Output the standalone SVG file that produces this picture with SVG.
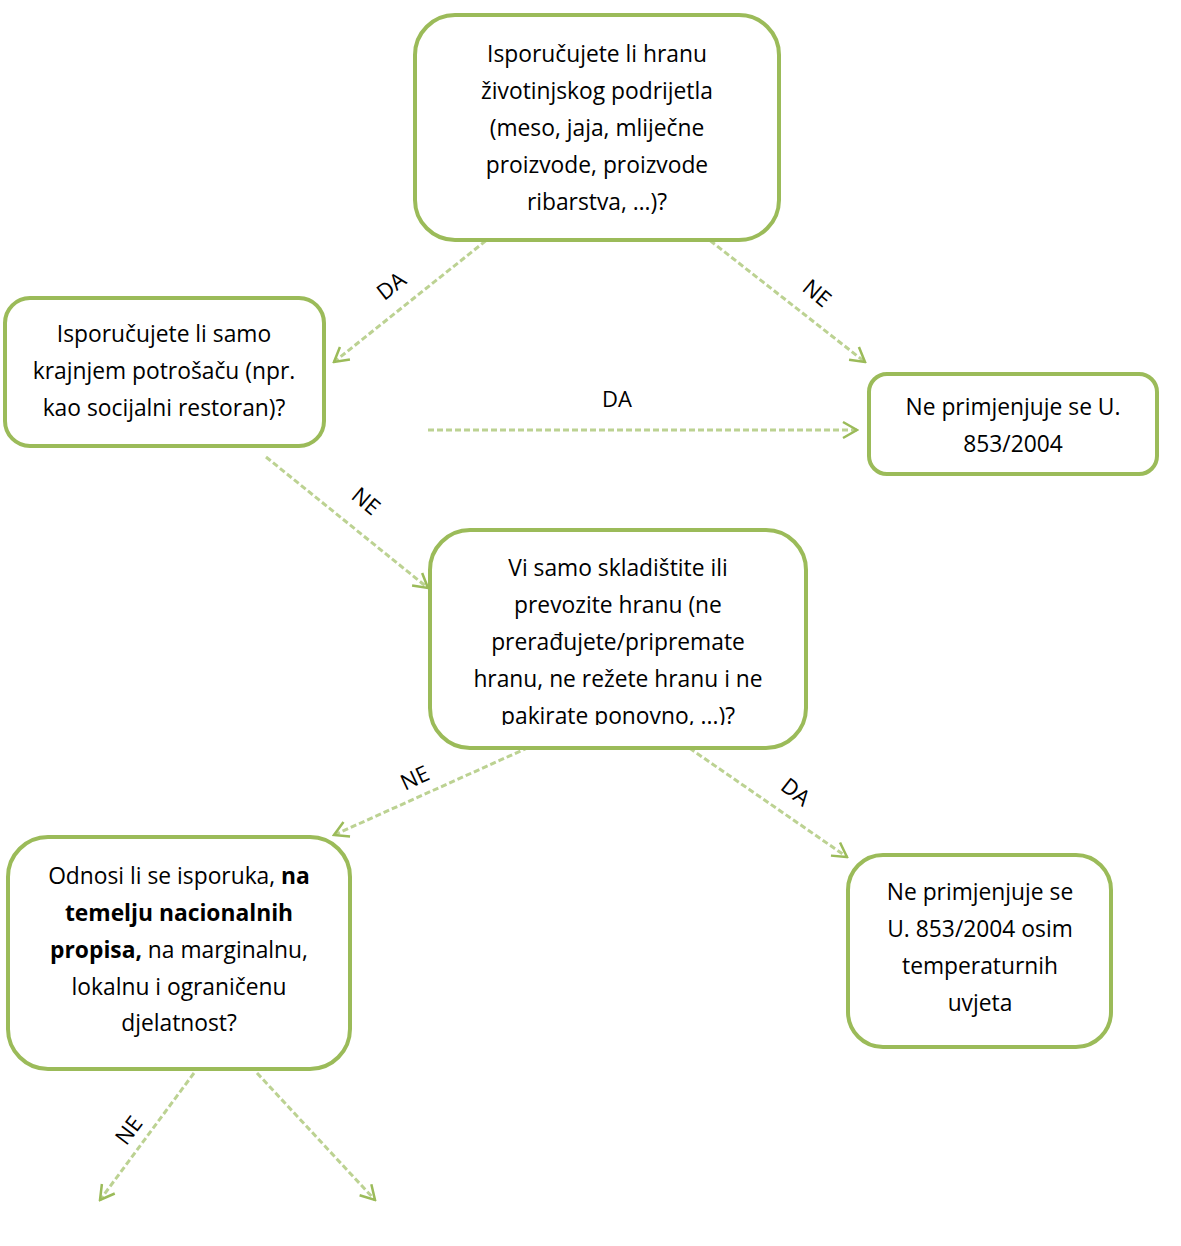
<svg xmlns="http://www.w3.org/2000/svg" width="1181" height="1246" viewBox="0 0 1181 1246">
<defs>
<style>
.box{fill:#fff;stroke:#9bbb59;stroke-width:4}
.t{font-family:"Open Sans",Lato,"Liberation Sans",sans-serif;font-size:22.8px;fill:#000;text-anchor:middle}
.b{font-weight:bold}
.lbl{font-family:"Open Sans",Lato,"Liberation Sans",sans-serif;font-size:22px;fill:#000;text-anchor:middle}
.c{fill:none;stroke:#bcd292;stroke-width:3;stroke-dasharray:6 3;marker-end:url(#ah)}
</style>
<marker id="ah" viewBox="0 0 20 20" refX="18" refY="10" markerWidth="20" markerHeight="20" markerUnits="userSpaceOnUse" orient="auto">
<path d="M4,2 L18,10 L4,18" fill="none" stroke="#9bbb59" stroke-width="2.5"/>
</marker>
<clipPath id="clip4"><rect x="430" y="530" width="376" height="195"/></clipPath>
</defs>
<rect width="1181" height="1246" fill="#fff"/>
<g id="connectors">
<line class="c" x1="493" y1="235" x2="334" y2="362"/>
<line class="c" x1="703" y1="235" x2="865" y2="362"/>
<line class="c" x1="428" y1="430" x2="857" y2="430"/>
<line class="c" x1="266" y1="457" x2="428" y2="588"/>
<line class="c" x1="545" y1="740" x2="334" y2="835"/>
<line class="c" x1="682" y1="743" x2="847" y2="857"/>
<line class="c" x1="194" y1="1073" x2="100" y2="1200"/>
<line class="c" x1="257" y1="1073" x2="375" y2="1200"/>
<text class="lbl" transform="translate(396,292) rotate(-38)">DA</text>
<text class="lbl" transform="translate(812,299) rotate(40)">NE</text>
<text class="lbl" x="617" y="407">DA</text>
<text class="lbl" transform="translate(361,507) rotate(40)">NE</text>
<text class="lbl" transform="translate(418,785) rotate(-25)">NE</text>
<text class="lbl" transform="translate(791,798) rotate(38)">DA</text>
<text class="lbl" transform="translate(135,1135) rotate(-53)">NE</text>
</g>
<g id="n1">
<rect class="box" x="415" y="15" width="364" height="225" rx="40"/>
<text class="t" x="597" y="62">Isporučujete li hranu</text>
<text class="t" x="597" y="99">životinjskog podrijetla</text>
<text class="t" x="597" y="136">(meso, jaja, mliječne</text>
<text class="t" x="597" y="173">proizvode, proizvode</text>
<text class="t" x="597" y="210">ribarstva, …)?</text>
</g>
<g id="n2">
<rect class="box" x="5" y="298" width="319" height="148" rx="25"/>
<text class="t" x="164" y="342">Isporučujete li samo</text>
<text class="t" x="164" y="379">krajnjem potrošaču (npr.</text>
<text class="t" x="164" y="416">kao socijalni restoran)?</text>
</g>
<g id="n3">
<rect class="box" x="869" y="374" width="288" height="100" rx="18"/>
<text class="t" x="1013" y="415">Ne primjenjuje se U.</text>
<text class="t" x="1013" y="452">853/2004</text>
</g>
<g id="n4">
<rect class="box" x="430" y="530" width="376" height="218" rx="40"/>
<g clip-path="url(#clip4)">
<text class="t" x="618" y="576">Vi samo skladištite ili</text>
<text class="t" x="618" y="613">prevozite hranu (ne</text>
<text class="t" x="618" y="650">prerađujete/pripremate</text>
<text class="t" x="618" y="687">hranu, ne režete hranu i ne</text>
<text class="t" x="618" y="724">pakirate ponovno, ...)?</text>
</g>
</g>
<g id="n5">
<rect class="box" x="8" y="837" width="342" height="232" rx="40"/>
<text class="t" x="179" y="884">Odnosi li se isporuka, <tspan class="b">na</tspan></text>
<text class="t b" x="179" y="921">temelju nacionalnih</text>
<text class="t" x="179" y="958"><tspan class="b">propisa,</tspan> na marginalnu,</text>
<text class="t" x="179" y="995">lokalnu i ograničenu</text>
<text class="t" x="179" y="1031">djelatnost?</text>
</g>
<g id="n6">
<rect class="box" x="848" y="855" width="263" height="192" rx="35"/>
<text class="t" x="980" y="900">Ne primjenjuje se</text>
<text class="t" x="980" y="937">U. 853/2004 osim</text>
<text class="t" x="980" y="974">temperaturnih</text>
<text class="t" x="980" y="1011">uvjeta</text>
</g>
</svg>
